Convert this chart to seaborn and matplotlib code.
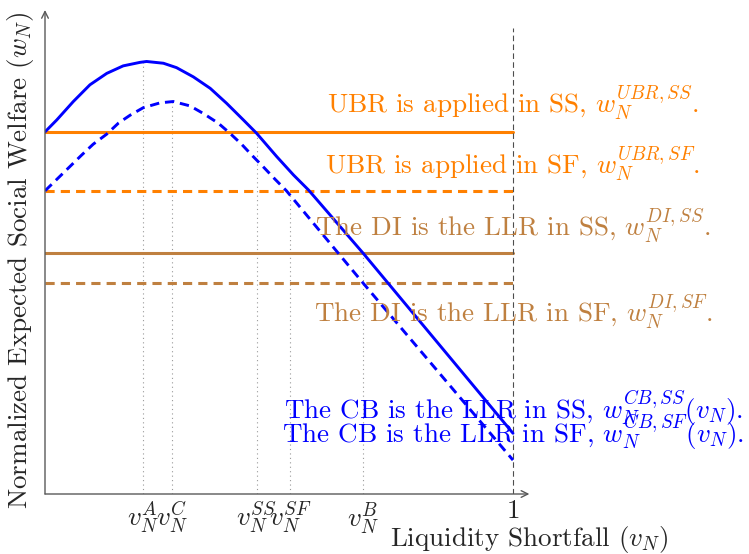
import numpy as np
import pandas as pd
import matplotlib
matplotlib.use("Agg")
import matplotlib.pyplot as plt
import seaborn as sns

# ---- data ----
x_ss = [0.0, 0.025, 0.0605, 0.096, 0.132, 0.167, 0.203, 0.217, 0.253, 0.281, 0.317, 0.353,
        0.388, 0.424, 0.452, 0.495, 0.531, 0.563, 0.680, 1.0]
w_ss = [0.823, 0.850, 0.892, 0.930, 0.956, 0.973, 0.981, 0.983, 0.979, 0.969, 0.948, 0.922,
        0.888, 0.850, 0.820, 0.767, 0.725, 0.691, 0.547, 0.138]

x_sf = [0.0, 0.028, 0.053, 0.078, 0.103, 0.132, 0.157, 0.182, 0.210, 0.246, 0.274, 0.310,
        0.338, 0.370, 0.395, 0.420, 0.442, 0.466, 0.491, 0.516, 0.680, 1.0]
w_sf = [0.689, 0.718, 0.744, 0.770, 0.795, 0.818, 0.843, 0.861, 0.878, 0.889, 0.892, 0.882,
        0.865, 0.843, 0.820, 0.795, 0.770, 0.744, 0.716, 0.689, 0.479, 0.077]

ubr_ss = 0.823
ubr_sf = 0.689
di_ss = 0.547
di_sf = 0.479

tick_pos = [0.21, 0.271, 0.452, 0.524, 0.680, 1.0]
tick_lab = [r"$v_N^A$", r"$v_N^C$", r"$v_N^{SS}$", r"$v_N^{SF}$", r"$v_N^B$", "1"]
tick_top = [0.981, 0.892, 0.823, 0.689, 0.547]

labels = [
    r"UBR is applied in SS, $w_N^{UBR,SS}$.",
    r"UBR is applied in SF, $w_N^{UBR,SF}$.",
    r"The DI is the LLR in SS, $w_N^{DI,SS}$.",
    r"The DI is the LLR in SF, $w_N^{DI,SF}$.",
    r"The CB is the LLR in SS, $w_N^{CB,SS}(v_N)$.",
    r"The CB is the LLR in SF, $w_N^{CB,SF}(v_N)$.",
]
label_y = [0.889, 0.752, 0.611, 0.414, 0.195, 0.141]

ORANGE = (1.0, 0.5, 0.0)
BROWN = (0.75, 0.5, 0.25)
BLUE = (0.0, 0.0, 1.0)
label_col = [ORANGE, ORANGE, BROWN, BROWN, BLUE, BLUE]

FS = 19.5

# ---- style ----
sns.set_theme(style="white")
plt.rcParams["font.family"] = "serif"
plt.rcParams["font.serif"] = ["cmr10", "DejaVu Serif"]
plt.rcParams["mathtext.fontset"] = "cm"
plt.rcParams["axes.unicode_minus"] = False
plt.rcParams["axes.formatter.use_mathtext"] = True

fig = plt.figure(figsize=(7.49, 5.54), dpi=100)
ax = fig.add_axes([45 / 749, 60 / 554, 1.04 * 468 / 749, 484 / 554])
ax.set_xlim(0, 1.04)
ax.set_ylim(0, 1.1)

df_ss = pd.DataFrame({"x": x_ss, "w": w_ss})
df_sf = pd.DataFrame({"x": x_sf, "w": w_sf})

# dotted guide lines
for xp, yt in zip(tick_pos[:-1], tick_top):
    ax.plot([xp, xp], [0, yt], color="0.6", lw=0.8, ls=(0, (1, 3)), zorder=1)

# horizontal benchmark lines
ax.plot([0, 1], [ubr_ss, ubr_ss], color=ORANGE, lw=2.2, zorder=2)
ax.plot([0, 1], [ubr_sf, ubr_sf], color=ORANGE, lw=2.2, ls=(0, (3, 2)), zorder=2)
ax.plot([0, 1], [di_ss, di_ss], color=BROWN, lw=2.2, zorder=2)
ax.plot([0, 1], [di_sf, di_sf], color=BROWN, lw=2.2, ls=(0, (3, 2)), zorder=2)

# CB curves
sns.lineplot(data=df_ss, x="x", y="w", ax=ax, color=BLUE, lw=2.1, zorder=3, sort=False)
sns.lineplot(data=df_sf, x="x", y="w", ax=ax, color=BLUE, lw=2.1, zorder=3, sort=False,
             linestyle=(0, (3.2, 2)))

# vertical dashed line at 1
ax.plot([1, 1], [0, 1.06], color="0.3", lw=0.8, ls=(0, (5, 3)), zorder=2)

# texts
for t, yv, c in zip(labels, label_y, label_col):
    ax.text(1.0, yv, t, color=c, fontsize=FS, ha="center", va="center", zorder=4)

# axes decoration
for s in ax.spines.values():
    s.set_visible(False)
ax.annotate("", xy=(1.035, 0), xytext=(0, 0),
            arrowprops=dict(arrowstyle="->", color="0.35", lw=1.0, shrinkA=0, shrinkB=0))
ax.annotate("", xy=(0, 1.1), xytext=(0, 0),
            arrowprops=dict(arrowstyle="->", color="0.35", lw=1.0, shrinkA=0, shrinkB=0))

ax.set_xticks(tick_pos)
ax.set_xticklabels(tick_lab, fontsize=FS)
ax.tick_params(axis="x", length=0, pad=4)
ax.set_yticks([])
ax.set_xlabel("")
ax.set_ylabel("")
ax.text(1.035, -0.104, r"Liquidity Shortfall ($v_N$)", fontsize=FS, ha="center", va="center")
ax.text(-0.053, 0.532, r"Normalized Expected Social Welfare ($w_N$)", fontsize=FS,
        rotation=90, ha="center", va="center")

fig.savefig("out.png", dpi=100)
